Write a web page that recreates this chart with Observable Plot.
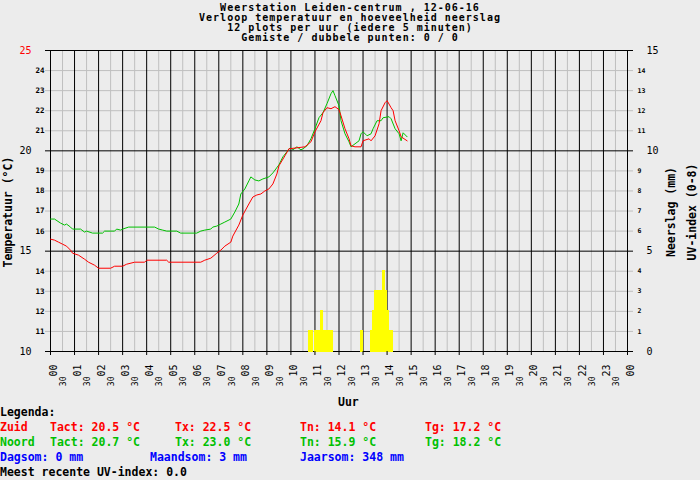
<!DOCTYPE html>
<html><head><meta charset="utf-8">
<script src="https://cdn.jsdelivr.net/npm/d3@7"></script>
<script src="https://cdn.jsdelivr.net/npm/@observablehq/plot@0.6"></script>
<style>
body{margin:0;background:#ececec;}
#wrap{position:relative;width:700px;height:480px;overflow:hidden;font-family:"DejaVu Sans Mono",monospace;font-weight:bold;font-size:11.5px;color:#000;}
#chart{position:absolute;left:0;top:0;}
.t{position:absolute;white-space:pre;line-height:15px;}
#title{position:absolute;left:0;width:700px;top:3px;text-align:center;line-height:10px;white-space:pre;font-size:10px;letter-spacing:1px;}
.rot{position:absolute;white-space:pre;line-height:15px;transform:translate(-50%,-50%) rotate(-90deg);}
.red{color:#ff0000}.green{color:#00c000}.blue{color:#0000ff}
</style></head>
<body><div id="wrap"><div id="chart"></div>
<div id="title">Weerstation Leiden-centrum , 12-06-16
Verloop temperatuur en hoeveelheid neerslag
12 plots per uur (iedere 5 minuten)
Gemiste / dubbele punten: 0 / 0</div>
<div class="rot" style="left:8px;top:212px">Temperatuur (°C)</div>
<div class="rot" style="left:671px;top:212px">Neerslag (mm)</div>
<div class="rot" style="left:692px;top:212px">UV-index (0-8)</div>
<div class="t" style="left:338px;top:395px">Uur</div>
<div class="t" style="left:0;top:405px">Legenda:</div>
<div class="t red" style="left:0;top:420px">Zuid</div>
<div class="t red" style="left:50px;top:420px">Tact: 20.5 °C</div>
<div class="t red" style="left:175px;top:420px">Tx: 22.5 °C</div>
<div class="t red" style="left:300px;top:420px">Tn: 14.1 °C</div>
<div class="t red" style="left:425px;top:420px">Tg: 17.2 °C</div>
<div class="t green" style="left:0;top:435px">Noord</div>
<div class="t green" style="left:50px;top:435px">Tact: 20.7 °C</div>
<div class="t green" style="left:175px;top:435px">Tx: 23.0 °C</div>
<div class="t green" style="left:300px;top:435px">Tn: 15.9 °C</div>
<div class="t green" style="left:425px;top:435px">Tg: 18.2 °C</div>
<div class="t blue" style="left:0;top:450px">Dagsom: 0 mm</div>
<div class="t blue" style="left:150px;top:450px">Maandsom: 3 mm</div>
<div class="t blue" style="left:300px;top:450px">Jaarsom: 348 mm</div>
<div class="t" style="left:0;top:465px">Meest recente UV-index: 0.0</div>
</div>
<script>
// Zuid (red) temperature, 5-minute readings (time, °C)
const zuidTimes = ["00:00","00:10","00:20","00:30","00:40","00:50","00:55","01:10","01:25","01:35","01:50","02:00","02:30","02:40","03:00","03:10","03:30","03:55","04:00","04:50","04:55","06:15","06:25","06:40","06:55","07:05","07:15","07:30","07:35","07:50","08:00","08:15","08:25","08:35","08:45","08:55","09:05","09:15","09:25","09:30","09:45","09:55","10:15","10:35","10:50","11:00","11:15","11:20","11:30","11:40","11:50","12:00","12:05","12:15","12:25","12:30","12:40","12:55","13:00","13:15","13:20","13:30","13:40","13:45","13:55","14:00","14:10","14:15","14:20","14:30","14:35","14:50"];
const zuidTemps = [15.6,15.55,15.45,15.35,15.25,15.05,14.9,14.8,14.6,14.45,14.3,14.15,14.15,14.25,14.25,14.35,14.45,14.45,14.55,14.55,14.45,14.45,14.55,14.65,14.9,15.05,15.25,15.45,15.75,16.3,16.8,17.35,17.7,17.8,17.85,18.0,18.1,18.35,18.85,19.25,19.75,20.1,20.15,20.2,20.45,20.95,21.5,21.9,22.15,22.1,22.2,22.05,21.75,21.1,20.6,20.25,20.2,20.2,20.5,20.6,20.5,20.75,21.35,22.0,22.4,22.5,22.15,22.0,21.5,21.0,20.7,20.5];
// Noord (green) temperature
const noordTimes = ["00:00","00:10","00:25","00:35","00:40","00:50","00:55","01:15","01:25","01:30","01:45","02:10","02:15","02:40","02:45","02:55","03:00","03:15","04:20","04:30","04:40","04:50","05:15","05:25","06:05","06:15","06:25","06:40","06:45","06:55","07:05","07:15","07:30","07:40","07:50","07:55","08:05","08:15","08:20","08:30","08:40","08:50","09:05","09:15","09:30","09:40","09:50","09:55","10:00","10:05","10:15","10:25","10:30","10:40","10:50","11:00","11:10","11:20","11:30","11:40","11:45","11:50","12:00","12:05","12:15","12:25","12:30","12:40","12:50","12:55","13:00","13:10","13:20","13:25","13:35","13:45","13:50","14:05","14:10","14:20","14:30","14:35","14:40","14:50"];
const noordTemps = [16.6,16.6,16.4,16.3,16.35,16.2,16.1,16.1,15.95,16.0,15.9,15.9,16.0,16.0,16.1,16.05,16.1,16.2,16.2,16.1,16.05,16.0,16.0,15.9,15.9,16.0,16.05,16.1,16.2,16.25,16.35,16.45,16.6,16.95,17.35,17.85,18.1,18.5,18.7,18.55,18.5,18.6,18.7,18.9,19.3,19.7,19.95,20.1,20.15,20.05,20.2,20.05,20.1,20.25,20.6,21.1,21.65,21.9,22.35,22.85,23.0,22.75,22.25,21.5,20.85,20.45,20.2,20.35,20.5,20.85,20.95,20.75,20.85,21.1,21.5,21.5,21.65,21.7,21.6,21.1,20.85,20.5,20.9,20.7];
// Neerslag per 5-minute slot (start time, value on right axis)
const rainTimes = ["10:45","10:50","11:00","11:05","11:10","11:15","11:20","11:25","11:30","11:35","11:40","12:55","13:20","13:25","13:30","13:35","13:40","13:45","13:50","13:55","14:00","14:05","14:10"];
const rainValues = [1,1,1,1,1,2,1,1,1,1,1,1,1,2,3,3,3,3,4,3,2,1,1];

// Ticks and labels
const hourTicks = d3.range(0, 25);
const hourLabels = ["00","01","02","03","04","05","06","07","08","09","10","11","12","13","14","15","16","17","18","19","20","21","22","23","00"];
const halfTicks = d3.range(0, 24).map(h => h + 0.5);
const halfLabel = "30";
const tempMajor = [10, 15, 20];
const tempTop = [25];
const tempMinor = [11,12,13,14,16,17,18,19,21,22,23,24];
const rainMajor = [0, 5, 10, 15];
const rainMinor = [1,2,3,4,6,7,8,9,11,12,13,14];
const RAIN_ZERO = 10;        // 0 mm lines up with 10 °C
const SLOT = 5 / 60;         // 5 minutes

const GRID = "#bfbfbf", RED = "#ff0000", GREEN = "#00c000", YELLOW = "#ffff00";
const toHour = s => { const [h, m] = s.split(":").map(Number); return h + m / 60; };

const zuid = zuidTimes.map((s, i) => ({t: toHour(s), v: zuidTemps[i]}));
const noord = noordTimes.map((s, i) => ({t: toHour(s), v: noordTemps[i]}));
const rain = rainTimes.map((s, i) => ({t0: toHour(s), t1: toHour(s) + SLOT, b: RAIN_ZERO, top: RAIN_ZERO + rainValues[i]}));
const hours = hourTicks.map((t, i) => ({t, label: hourLabels[i]}));

const chart = Plot.plot({
  width: 700, height: 480,
  marginTop: 50, marginBottom: 129, marginLeft: 50, marginRight: 73,
  x: {domain: [0, 24], axis: null},
  y: {domain: [10, 25], axis: null},
  style: {background: "transparent", fontFamily: "DejaVu Sans Mono", fontWeight: "normal", overflow: "visible", color: "black"},
  marks: [
    Plot.gridY(tempMinor, {stroke: GRID, strokeOpacity: 1}),
    Plot.gridX(halfTicks, {stroke: GRID, strokeOpacity: 1}),
    Plot.gridX(hourTicks, {stroke: "black", strokeOpacity: 1}),
    Plot.gridY(tempMajor.concat(tempTop), {stroke: "black", strokeOpacity: 1}),
    Plot.rect(rain, {x1: "t0", x2: "t1", y1: "b", y2: "top", fill: YELLOW, stroke: YELLOW, strokeWidth: 1, inset: 0, shapeRendering: "crispEdges"}),
    // left axis
    Plot.axisY(tempMinor, {anchor: "left", tickSize: 5, tickPadding: 1, stroke: GRID, fill: "black", fontSize: 7.5, fontWeight: "bold"}),
    Plot.axisY(tempMajor, {anchor: "left", tickSize: 5, tickPadding: 14, stroke: "black", fill: "black", fontSize: 10, fontWeight: "normal"}),
    Plot.axisY(tempTop, {anchor: "left", tickSize: 5, tickPadding: 14, stroke: "black", fill: RED, fontSize: 10, fontWeight: "normal"}),
    // right axis (neerslag)
    Plot.axisY(rainMinor.map(v => v + RAIN_ZERO), {anchor: "right", tickSize: 5, tickPadding: 5, stroke: GRID, fill: "black", fontSize: 6.5, fontWeight: "bold", tickFormat: d => d - RAIN_ZERO}),
    Plot.axisY(rainMajor.map(v => v + RAIN_ZERO), {anchor: "right", tickSize: 5, tickPadding: 14, stroke: "black", fill: "black", fontSize: 10, fontWeight: "normal", tickFormat: d => d - RAIN_ZERO}),
    // x axis
    Plot.axisX(hourTicks, {anchor: "bottom", tickSize: 4, stroke: "black", tickFormat: () => ""}),
    Plot.text(hours, {x: "t", frameAnchor: "bottom", text: "label", rotate: -90, textAnchor: "end", lineAnchor: "top", dx: -1, dy: 13, fontSize: 10, fontWeight: "normal", fill: "black"}),
    Plot.text(halfTicks, {x: d => d, frameAnchor: "bottom", text: () => halfLabel, rotate: -90, textAnchor: "end", lineAnchor: "top", dx: -2, dy: 25, fontSize: 8, fontWeight: "normal", fill: "black"}),
    // temperature lines
    Plot.line(noord, {x: "t", y: "v", stroke: GREEN, strokeWidth: 1}),
    Plot.line(zuid, {x: "t", y: "v", stroke: RED, strokeWidth: 1})
  ]
});
document.getElementById("chart").appendChild(chart);
</script>
</body></html>
